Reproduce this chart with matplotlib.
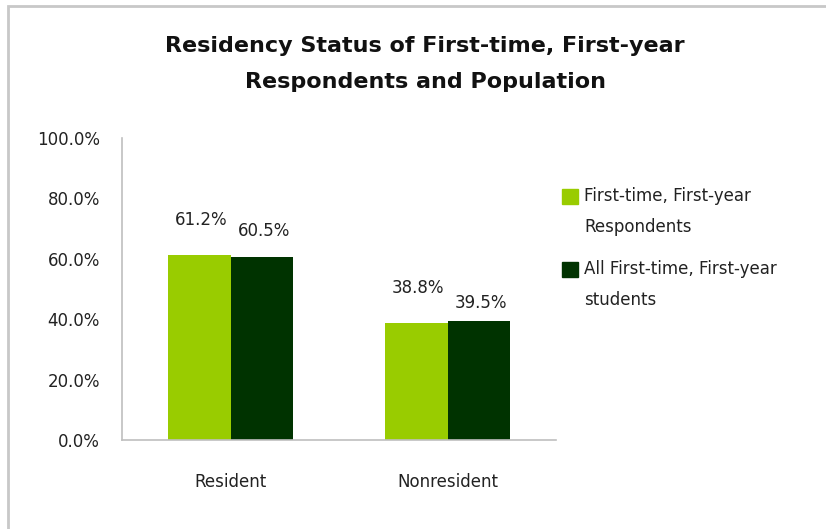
import matplotlib.pyplot as plt
from matplotlib.patches import Rectangle
from matplotlib.ticker import FuncFormatter

# chart data
categories = ["Resident", "Nonresident"]
respondents = [61.2, 38.8]
population = [60.5, 39.5]
series_names = ["First-time, First-year\nRespondents", "All First-time, First-year\nstudents"]
title = "Residency Status of First-time, First-year\nRespondents and Population"

light = "#99cc00"
dark = "#003300"
grey = "#bfbfbf"
W, H = 826, 529

plt.rcParams["font.family"] = "DejaVu Sans"

fig = plt.figure(figsize=(W / 100, H / 100), dpi=100)
ax = fig.add_axes([122 / W, 1 - 440 / H, 434 / W, 302 / H])

# chart-area border (only left and top edges are visible in the crop)
fig.patches.append(Rectangle((8 / W, -0.5), 1.5, 1.5 - 6 / H, transform=fig.transFigure,
                             fill=False, edgecolor="#c8c8c8", linewidth=2))

x = list(range(len(categories)))
w = 0.29
b1 = ax.bar([i - w / 2 for i in x], respondents, w, color=light)
b2 = ax.bar([i + w / 2 for i in x], population, w, color=dark)

# value labels, offsets (points) follow the staggered placement in the original
offs1 = [25, 25]
offs2 = [19, 13]
for bars, vals, offs in ((b1, respondents, offs1), (b2, population, offs2)):
    for r, v, o in zip(bars, vals, offs):
        ax.annotate(f"{v:.1f}%", (r.get_x() + r.get_width() / 2 + 0.01, r.get_height()),
                    xytext=(0, o), textcoords="offset points", ha="center", va="center",
                    fontsize=12, color="#222222")

ax.set_xlim(-0.5, 1.5)
ax.set_ylim(0, 100)
ax.set_yticks([0, 20, 40, 60, 80, 100])
ax.yaxis.set_major_formatter(FuncFormatter(lambda v, p: f"{v:.1f}%"))
ax.set_xticks(x)
ax.set_xticklabels(categories)
ax.tick_params(axis="y", length=0, pad=16, labelsize=12, labelcolor="#222222")
ax.tick_params(axis="x", length=0, pad=24, labelsize=12, labelcolor="#222222")
for s in ("top", "right"):
    ax.spines[s].set_visible(False)
for s in ("left", "bottom"):
    ax.spines[s].set_color(grey)
    ax.spines[s].set_linewidth(1.2)

fig.text(425 / W, 1 - 64 / H, title, ha="center", va="center", fontsize=16,
         fontweight="bold", linespacing=1.95, color="#111111")

# legend drawn by hand: square next to the first line of each two-line entry
for i, (name, col) in enumerate(zip(series_names, [light, dark])):
    y0 = 196 + i * 73
    fig.patches.append(Rectangle((562 / W, 1 - (y0 + 8) / H), 16 / W, 15 / H,
                                 transform=fig.transFigure, color=col))
    for k, line in enumerate(name.split("\n")):
        fig.text(584 / W, 1 - (y0 + k * 31) / H, line, ha="left", va="center",
                 fontsize=12, color="#222222")

fig.savefig("out.png", dpi=100)
